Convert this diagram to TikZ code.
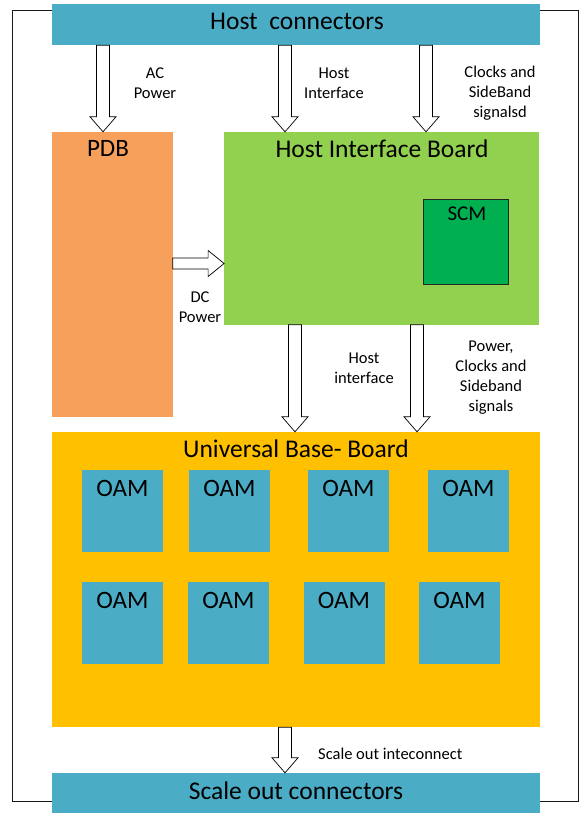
\documentclass[tikz,border=0pt]{standalone}
\usepackage{fontspec}
\setmainfont{Carlito}
\usepackage{tikz}
\usetikzlibrary{calc}
\definecolor{hostblue}{HTML}{4BACC6}
\definecolor{pdborange}{HTML}{F6A05B}
\definecolor{hibgreen}{HTML}{92D050}
\definecolor{scmgreen}{HTML}{00B050}
\definecolor{ubbyellow}{HTML}{FFC000}
\tikzstyle{Frame}=[draw=black!90, line width=1pt, fill=none, inner sep=0pt, minimum width=566pt, minimum height=790pt]
\tikzstyle{Connector}=[fill=hostblue, draw=none, inner sep=0pt, minimum width=488pt]
\tikzstyle{Board}=[draw=none, inner sep=0pt, shape=rectangle]
\tikzstyle{Module}=[fill=hostblue, draw=none, inner sep=0pt, minimum width=81pt, minimum height=82pt]
\tikzstyle{Title}=[text=black, inner sep=0pt, font=\fontsize{25.5}{30}\selectfont]
\tikzstyle{SubTitle}=[text=black, inner sep=0pt, font=\fontsize{25}{30}\selectfont]
\tikzstyle{Note}=[text=black, inner sep=0pt, align=center, font=\fontsize{16.5}{20}\selectfont]
\tikzstyle{FatDown}=[draw=black, fill=white, line width=0.7pt, to path={let \p1=(\tikztostart), \p2=(\tikztotarget) in (\x1-6.5pt,\y1) -- (\x1-6.5pt,\y2+15pt) -- (\x1-13pt,\y2+15pt) -- (\x1,\y2) -- (\x1+13pt,\y2+15pt) -- (\x1+6.5pt,\y2+15pt) -- (\x1+6.5pt,\y1) -- cycle}]
\tikzstyle{FatRight}=[draw=black, fill=white, line width=0.7pt, to path={let \p1=(\tikztostart), \p2=(\tikztotarget) in (\x1,\y1-5.5pt) -- (\x2-16pt,\y1-5.5pt) -- (\x2-16pt,\y1-13pt) -- (\x2,\y1) -- (\x2-16pt,\y1+13pt) -- (\x2-16pt,\y1+5.5pt) -- (\x1,\y1+5.5pt) -- cycle}]
\pgfdeclarelayer{framelayer}
\pgfdeclarelayer{nodelayer}
\pgfdeclarelayer{edgelayer}
\pgfsetlayers{framelayer, nodelayer, edgelayer, main}

\begin{document}
\begin{tikzpicture}[x=1pt, y=-1pt]
	\useasboundingbox (0,0) rectangle (581,813);
	\begin{pgfonlayer}{framelayer}
		\node [style=Frame] (frame) at (295,406) {};
	\end{pgfonlayer}
	\begin{pgfonlayer}{nodelayer}
		\node [style=Connector, minimum height=41pt] (hostconn) at (296,24.5) {};
		\node [style=Connector, minimum height=40pt] (scaleconn) at (296,793) {};

		\node [style=Board, fill=pdborange, minimum width=120.5pt, minimum height=284.5pt] (pdb) at (112.25,274.25) {};
		\node [style=Board, fill=hibgreen, minimum width=314.7pt, minimum height=192.5pt] (hib) at (381.65,228.25) {};
		\node [style=Board, fill=scmgreen, draw=black!85, line width=0.9pt, minimum width=85pt, minimum height=85pt] (scm) at (466,241.5) {};
		\node [style=Board, fill=ubbyellow, minimum width=488pt, minimum height=295pt] (ubb) at (296,579.5) {};

		% titles
		\node [style=Title] (hosttitle) at (297,21.5) {Host\ \ connectors};
		\node [style=Title] (scaletitle) at (296,791) {Scale out connectors};
		\node [style=SubTitle] (pdbtitle) at (108,148) {PDB};
		\node [style=Title] (hibtitle) at (382,149) {Host Interface Board};
		\node [style=SubTitle, font=\fontsize{21}{25}\selectfont] (scmtitle) at (467,214) {SCM};
		\node [style=Title] (ubbtitle) at (296,449) {Universal Base- Board};

		% OAM modules
		\node [style=Module] (oama) at (122.5,510.75) {};
		\node [style=Module] (oamb) at (229.5,510.75) {};
		\node [style=Module] (oamc) at (348.5,510.75) {};
		\node [style=Module] (oamd) at (468.5,510.75) {};
		\node [style=Module] (oame) at (122.5,623) {};
		\node [style=Module] (oamf) at (228.5,623) {};
		\node [style=Module] (oamg) at (344,623) {};
		\node [style=Module] (oamh) at (459.5,623) {};
		\foreach \m in {a,b,c,d}
			\node [style=SubTitle] (oamtitle\m) at (oam\m.center |- 0,488) {OAM};
		\foreach \m in {e,f,g,h}
			\node [style=SubTitle] (oamtitle\m) at (oam\m.center |- 0,600) {OAM};

		% arrow labels
		\node [style=Note] (acnote) at (155,83) {AC\\Power};
		\node [style=Note] (hostnote) at (334,83) {Host\\Interface};
		\node [style=Note] (clknote) at (500,93) {Clocks and\\SideBand\\signalsd};
		\node [style=Note] (dcnote) at (200,307) {DC\\Power};
		\node [style=Note] (hibnote) at (364,368) {Host\\interface};
		\node [style=Note] (pwrnote) at (491,378) {Power,\\Clocks and\\Sideband\\signals};
		\node [style=Note, anchor=west] (scalenote) at (318,754) {Scale out inteconnect};
	\end{pgfonlayer}
	\begin{pgfonlayer}{edgelayer}
		\coordinate (acline) at (103,0);
		\coordinate (hostline) at (285,0);
		\coordinate (clkline) at (426,0);
		\coordinate (dcline) at (0,263.5);
		\coordinate (downhost) at (295,0);
		\coordinate (downpower) at (417,0);
		\coordinate (scaleline) at (285,0);

		\draw [style=FatDown] (hostconn.south -| acline) to (pdb.north -| acline);
		\draw [style=FatDown] (hostconn.south -| hostline) to (hib.north -| hostline);
		\draw [style=FatDown] (hostconn.south -| clkline) to (hib.north -| clkline);
		\draw [style=FatRight] (pdb.east |- dcline) to (hib.west |- dcline);
		\draw [style=FatDown] (hib.south -| downhost) to (ubb.north -| downhost);
		\draw [style=FatDown] (hib.south -| downpower) to (ubb.north -| downpower);
		\draw [style=FatDown] (ubb.south -| scaleline) to (scaleconn.north -| scaleline);
	\end{pgfonlayer}
\end{tikzpicture}
\end{document}
